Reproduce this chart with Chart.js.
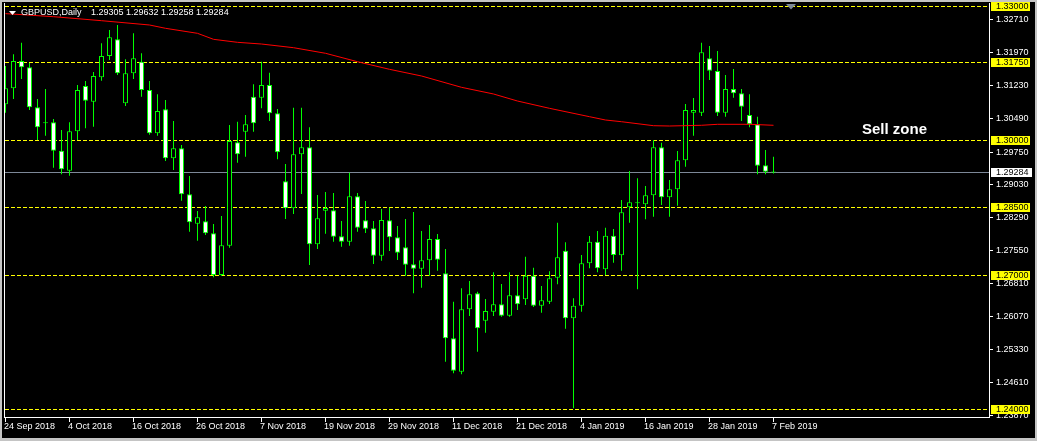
<!DOCTYPE html>
<html>
<head>
<meta charset="utf-8">
<script src="https://cdn.jsdelivr.net/npm/chart.js@4/dist/chart.umd.min.js"></script>
<style>
  html, body { margin: 0; padding: 0; background: #000; }
  canvas { display: block; }
</style>
</head>
<body>
<canvas id="chart" width="1037" height="441"></canvas>
<script>
const symbolTitle = 'GBPUSD,Daily';
const lastQuote = '1.29305 1.29632 1.29258 1.29284';

// daily candles, 24 Sep 2018 .. 7 Feb 2019
const candleOpen = [
    1.30805, 1.31162, 1.31772, 1.31631, 1.30738, 1.30380, 1.30403, 1.29768, 1.29322, 1.30202,
    1.31213, 1.30863, 1.31408, 1.31883, 1.32256, 1.30827, 1.31497, 1.31756, 1.31124, 1.30157,
    1.30693, 1.29599, 1.29822, 1.28795, 1.28138, 1.28192, 1.27924, 1.26993, 1.27647, 1.29956,
    1.30193, 1.30974, 1.30952, 1.31236, 1.30604, 1.29085, 1.28482, 1.29688, 1.29844, 1.27678,
    1.28429, 1.28438, 1.27857, 1.27736, 1.28750, 1.28214, 1.28036, 1.27424, 1.28214, 1.27835,
    1.27611, 1.27232, 1.27133, 1.27321, 1.27797, 1.27031, 1.25579, 1.24833, 1.26227, 1.26584,
    1.25972, 1.26173, 1.26338, 1.26084, 1.26539, 1.26450, 1.26977, 1.26307, 1.26396, 1.26932,
    1.27535, 1.26026, 1.26307, 1.27254, 1.27736, 1.27120, 1.27870, 1.27433, 1.28504, 1.28594,
    1.28571, 1.28772, 1.29844, 1.28728, 1.28907, 1.29554, 1.30617, 1.30617, 1.31832, 1.31548,
    1.30617, 1.31146, 1.31050, 1.30566, 1.30358, 1.29442, 1.29305
];
const candleHigh = [
    1.31660, 1.31921, 1.32180, 1.31727, 1.30923, 1.31146, 1.30476, 1.30231, 1.30403, 1.31236,
    1.31325, 1.31526, 1.32167, 1.32464, 1.32576, 1.31810, 1.32390, 1.31944, 1.31325, 1.31028,
    1.30901, 1.30432, 1.29896, 1.29204, 1.28422, 1.28534, 1.28132, 1.28310, 1.30342, 1.30416,
    1.30566, 1.31251, 1.31756, 1.31510, 1.30700, 1.29471, 1.30729, 1.30729, 1.30291, 1.28779,
    1.28846, 1.28824, 1.28199, 1.29277, 1.28824, 1.28645, 1.28199, 1.28467, 1.28496, 1.28087,
    1.28243, 1.28400, 1.27975, 1.28109, 1.27908, 1.27573, 1.26396, 1.26696, 1.26859, 1.26620,
    1.26457, 1.27053, 1.26792, 1.27053, 1.26977, 1.27401, 1.27156, 1.26747, 1.27075, 1.28161,
    1.27723, 1.26472, 1.27439, 1.27864, 1.27975, 1.28049, 1.28020, 1.28667, 1.29315, 1.29152,
    1.28980, 1.30007, 1.29947, 1.29114, 1.29762, 1.30811, 1.30945, 1.32180, 1.32107, 1.31995,
    1.31459, 1.31593, 1.31146, 1.31028, 1.30528, 1.29784, 1.29632
];
const candleLow = [
    1.30617, 1.30923, 1.31370, 1.30677, 1.30007, 1.30103, 1.29389, 1.29241, 1.29210, 1.30007,
    1.30269, 1.30304, 1.31332, 1.31794, 1.31459, 1.30767, 1.31370, 1.30974, 1.30126, 1.30103,
    1.29538, 1.29337, 1.28652, 1.27960, 1.27759, 1.27886, 1.26941, 1.26970, 1.27602, 1.29501,
    1.29635, 1.30193, 1.30715, 1.30432, 1.29576, 1.28243, 1.28355, 1.28802, 1.27216, 1.27573,
    1.27915, 1.27736, 1.27625, 1.27647, 1.27960, 1.27931, 1.27238, 1.27312, 1.27529, 1.27328,
    1.26977, 1.26584, 1.26709, 1.26977, 1.27089, 1.25056, 1.24797, 1.24775, 1.26077, 1.25280,
    1.25704, 1.26077, 1.26061, 1.26061, 1.26211, 1.26323, 1.26278, 1.26151, 1.26345, 1.26785,
    1.25793, 1.24016, 1.26173, 1.27142, 1.27053, 1.26993, 1.27267, 1.27089, 1.28161, 1.26673,
    1.28237, 1.28295, 1.28556, 1.28295, 1.28540, 1.29411, 1.30103, 1.30543, 1.31347, 1.30543,
    1.30528, 1.30952, 1.30432, 1.30291, 1.29241, 1.29241, 1.29258
];
const candleClose = [
    1.31162, 1.31772, 1.31631, 1.30738, 1.30291, 1.30380, 1.29768, 1.29353, 1.30202, 1.31124,
    1.30885, 1.31437, 1.31883, 1.32301, 1.31497, 1.31497, 1.31832, 1.31124, 1.30157, 1.30655,
    1.29599, 1.29822, 1.28795, 1.28170, 1.28281, 1.27924, 1.26993, 1.27656, 1.29985, 1.29688,
    1.30358, 1.30380, 1.31236, 1.30604, 1.29733, 1.28482, 1.29688, 1.29844, 1.27678, 1.28259,
    1.28489, 1.27848, 1.27736, 1.28750, 1.28049, 1.28027, 1.27424, 1.28221, 1.27835, 1.27491,
    1.27223, 1.27133, 1.27321, 1.27797, 1.27334, 1.25579, 1.24855, 1.26227, 1.26562, 1.25802,
    1.26189, 1.26338, 1.26084, 1.26539, 1.26338, 1.26977, 1.26307, 1.26428, 1.26919, 1.27388,
    1.26026, 1.26307, 1.27254, 1.27736, 1.27142, 1.27870, 1.27439, 1.28393, 1.28616, 1.28600,
    1.28772, 1.29844, 1.28728, 1.28907, 1.29554, 1.30677, 1.30677, 1.31966, 1.31555, 1.30617,
    1.31146, 1.31050, 1.30751, 1.30358, 1.29433, 1.29300, 1.29284
];

// moving average (red), read at a few bars
const maIndex = [0, 6, 12, 18, 20, 24, 26, 29, 32, 36, 40, 44, 48, 52, 57, 61, 64, 68, 73, 75, 77, 81, 83, 87, 89, 93, 96];
const maValue = [
    1.32830, 1.32761, 1.32672, 1.32576, 1.32502, 1.32390, 1.32256, 1.32189, 1.32151, 1.32069,
    1.31944, 1.31756, 1.31586, 1.31437, 1.31184, 1.31035, 1.30878, 1.30715, 1.30528, 1.30454,
    1.30416, 1.30327, 1.30320, 1.30336, 1.30358, 1.30358, 1.30336
];

const dateLabels = ['24 Sep 2018', '4 Oct 2018', '16 Oct 2018', '26 Oct 2018', '7 Nov 2018', '19 Nov 2018',
    '29 Nov 2018', '11 Dec 2018', '21 Dec 2018', '4 Jan 2019', '16 Jan 2019', '28 Jan 2019', '7 Feb 2019'];
const dateIndex = [0, 8, 16, 24, 32, 40, 48, 56, 64, 72, 80, 88, 96];

const priceTicks = [1.32710, 1.31970, 1.31230, 1.30490, 1.29750, 1.29030, 1.28290, 1.27550,
    1.26810, 1.26070, 1.25330, 1.24610, 1.23870];
const levelLines = [1.33000, 1.31750, 1.30000, 1.28500, 1.27000, 1.24000];
const bidPrice = 1.29284;

const LIME = '#00ff00';
const AXIS_FONT = '9px "Liberation Sans", Arial, sans-serif';

const wickData = candleLow.map((low, i) => ({ x: i, y: [low, candleHigh[i]] }));
const bodyData = candleOpen.map((open, i) => ({ x: i, y: [open, candleClose[i]] }));
const bodyColors = candleOpen.map((open, i) => candleClose[i] > open ? '#000000' : '#ffffff');
const maData = maIndex.map((idx, k) => ({ x: idx, y: maValue[k] }));

const mtOverlay = {
    id: 'mtOverlay',
    beforeDraw(chart) {
        const ctx = chart.ctx;
        ctx.save();
        ctx.fillStyle = '#000000';
        ctx.fillRect(0, 0, chart.width, chart.height);
        ctx.restore();
    },
    beforeDatasetsDraw(chart) {
        const { ctx, chartArea } = chart;
        const yScale = chart.scales.y;
        ctx.save();
        ctx.lineWidth = 1;
        ctx.strokeStyle = '#ffff00';
        ctx.setLineDash([4, 2]);
        levelLines.forEach(v => {
            const py = Math.round(yScale.getPixelForValue(v)) + 0.5;
            ctx.beginPath();
            ctx.moveTo(chartArea.left, py);
            ctx.lineTo(chartArea.right, py);
            ctx.stroke();
        });
        ctx.setLineDash([]);
        ctx.strokeStyle = '#7d8898';
        const by = Math.round(yScale.getPixelForValue(bidPrice)) + 0.5;
        ctx.beginPath();
        ctx.moveTo(chartArea.left, by);
        ctx.lineTo(chartArea.right, by);
        ctx.stroke();
        ctx.restore();
    },
    afterDraw(chart) {
        const { ctx, chartArea } = chart;
        const xScale = chart.scales.x;
        const yScale = chart.scales.y;
        ctx.save();

        // window frame
        ctx.fillStyle = '#c4c4c4';
        ctx.fillRect(0, 0, chart.width, 2);
        ctx.fillRect(0, 0, 2, chart.height);
        ctx.fillRect(chart.width - 2, 0, 2, chart.height);
        ctx.fillRect(0, chart.height - 3, chart.width, 3);

        // axis lines
        ctx.fillStyle = '#ffffff';
        ctx.fillRect(4, chartArea.top, 1, chartArea.bottom - chartArea.top + 1);
        ctx.fillRect(chartArea.right, chartArea.top, 1, chartArea.bottom - chartArea.top + 1);
        ctx.fillRect(4, chartArea.bottom, chartArea.right - 3, 1);

        // price scale
        ctx.font = AXIS_FONT;
        ctx.textBaseline = 'middle';
        ctx.textAlign = 'left';
        priceTicks.forEach(v => {
            const py = Math.round(yScale.getPixelForValue(v));
            ctx.fillStyle = '#ffffff';
            ctx.fillRect(chartArea.right, py, 4, 1);
            ctx.fillText(v.toFixed(5), 996, py + 0.5);
        });

        levelLines.forEach(v => {
            const py = Math.round(yScale.getPixelForValue(v));
            ctx.fillStyle = '#ffff00';
            ctx.fillRect(991, py - 4, 39, 9);
            ctx.fillStyle = '#000000';
            ctx.fillText(v.toFixed(5), 996, py + 0.5);
        });

        const by = Math.round(yScale.getPixelForValue(bidPrice));
        ctx.fillStyle = '#ffffff';
        ctx.fillRect(991, by - 4, 41, 9);
        ctx.fillStyle = '#000000';
        ctx.fillText(bidPrice.toFixed(5), 996, by + 0.5);

        // time scale
        ctx.fillStyle = '#ffffff';
        dateIndex.forEach((idx, k) => {
            const px = Math.floor(xScale.getPixelForValue(idx));
            ctx.fillRect(px, chartArea.bottom + 1, 1, 4);
            ctx.fillText(dateLabels[k], px - 1, 427);
        });

        // header
        ctx.beginPath();
        ctx.moveTo(9, 11);
        ctx.lineTo(16, 11);
        ctx.lineTo(12.5, 15);
        ctx.closePath();
        ctx.fill();
        ctx.fillText(symbolTitle, 21, 13);
        ctx.fillText(lastQuote, 91, 13);

        // chart shift marker
        ctx.fillStyle = '#7d8898';
        ctx.beginPath();
        ctx.moveTo(786, 4);
        ctx.lineTo(796, 4);
        ctx.lineTo(791, 9.5);
        ctx.closePath();
        ctx.fill();

        // annotation
        ctx.fillStyle = '#ffffff';
        ctx.font = 'bold 15px "Liberation Sans", Arial, sans-serif';
        ctx.fillText('Sell zone', 862, 130);

        ctx.restore();
    }
};

new Chart(document.getElementById('chart'), {
    type: 'bar',
    data: {
        datasets: [
            {
                label: 'MA',
                type: 'line',
                data: maData,
                borderColor: '#ff0000',
                borderWidth: 1,
                pointRadius: 0,
                tension: 0,
                order: 0
            },
            {
                label: 'Body',
                data: bodyData,
                backgroundColor: bodyColors,
                borderColor: LIME,
                borderWidth: 1,
                borderSkipped: false,
                barThickness: 5,
                minBarLength: 1,
                grouped: false,
                inflateAmount: 0,
                order: 1
            },
            {
                label: 'Wick',
                data: wickData,
                backgroundColor: LIME,
                borderWidth: 0,
                barThickness: 1,
                grouped: false,
                inflateAmount: 0,
                order: 2
            }
        ]
    },
    options: {
        responsive: false,
        animation: false,
        events: [],
        layout: { padding: { left: 5, right: 48, top: 3, bottom: 24 } },
        plugins: {
            legend: { display: false },
            tooltip: { enabled: false }
        },
        scales: {
            x: {
                type: 'linear',
                min: -0.0625,
                max: 122.9375,
                offset: false,
                display: false
            },
            y: {
                type: 'linear',
                min: 1.238213,
                max: 1.330670,
                stacked: false,
                display: false
            }
        }
    },
    plugins: [mtOverlay]
});
</script>
</body>
</html>
